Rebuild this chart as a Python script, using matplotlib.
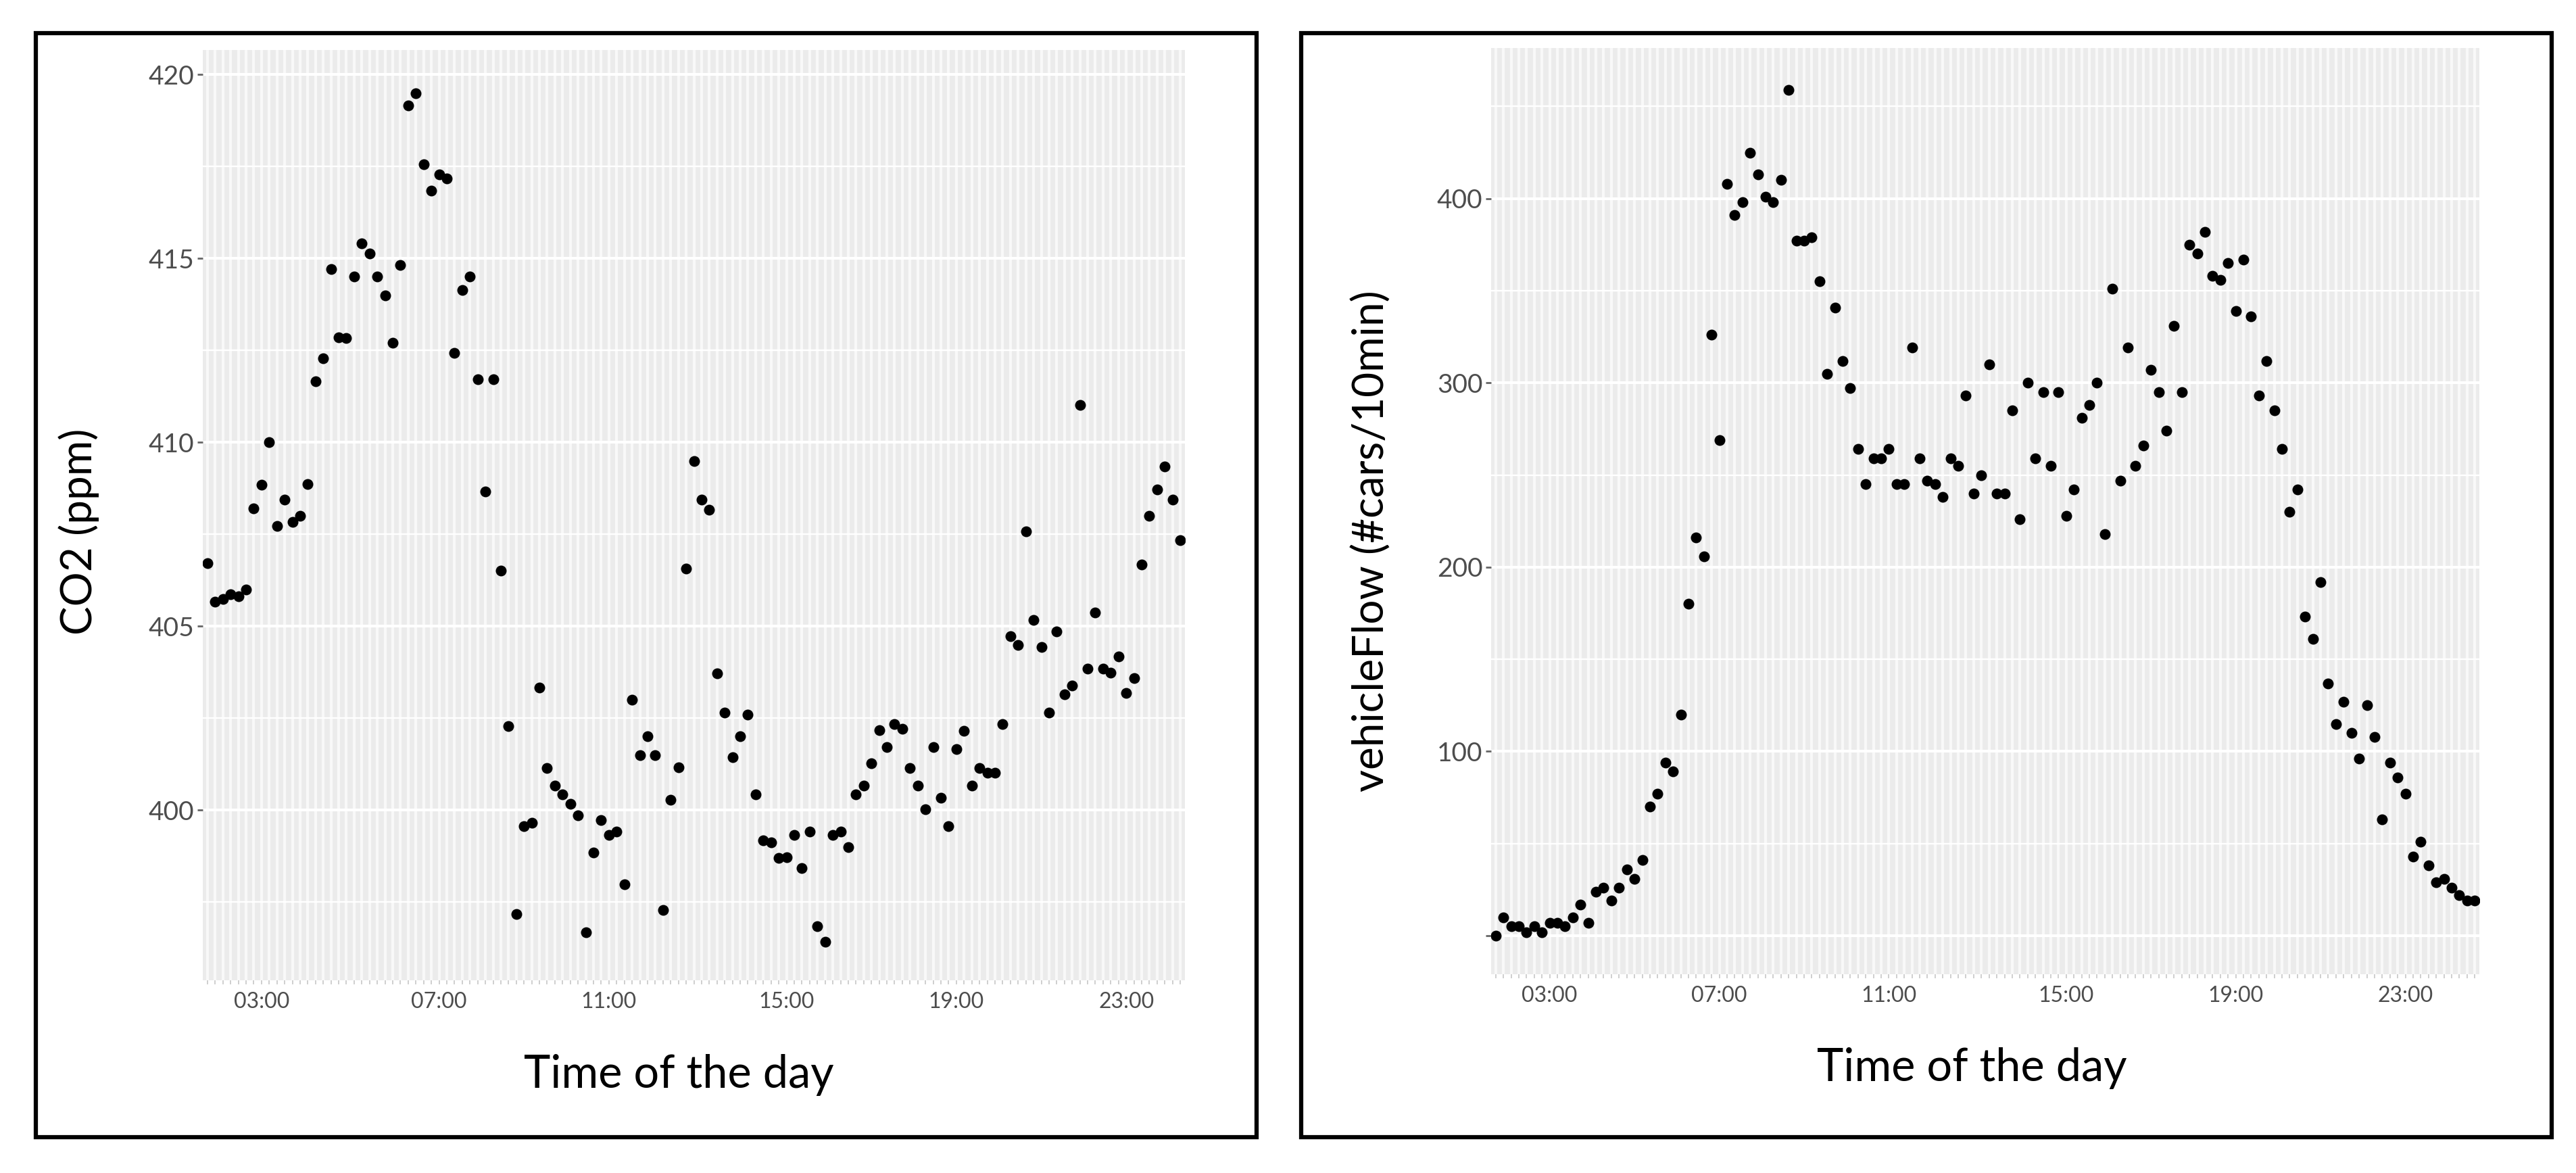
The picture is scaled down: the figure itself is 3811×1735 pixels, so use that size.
import numpy as np
import matplotlib.pyplot as plt
from matplotlib.patches import Rectangle

# CO2 readings, one per time slot (ppm)
co2 = [406.72, 405.67, 405.74, 405.86, 405.82, 405.99, 408.20, 408.85, 410.00, 407.72,
       408.44, 407.84, 408.00, 408.87, 411.66, 412.28, 414.71, 412.86, 412.83, 414.51,
       415.42, 415.14, 414.51, 413.99, 412.71, 414.83, 419.17, 419.50, 417.57, 416.84,
       417.29, 417.17, 412.43, 414.14, 414.51, 411.71, 408.67, 411.71, 406.51, 402.28,
       397.17, 399.57, 399.65, 403.34, 401.15, 400.67, 400.43, 400.17, 399.85, 396.67,
       398.85, 399.72, 399.33, 399.42, 397.99, 403.00, 401.50, 402.00, 401.50, 397.29,
       400.28, 401.17, 406.57, 409.50, 408.44, 408.17, 403.71, 402.66, 401.43, 402.00,
       402.60, 400.43, 399.17, 399.13, 398.69, 398.72, 399.33, 398.42, 399.42, 396.84,
       396.42, 399.33, 399.42, 399.00, 400.43, 400.67, 401.28, 402.18, 401.71, 402.34,
       402.21, 401.15, 400.67, 400.02, 401.71, 400.33, 399.57, 401.66, 402.15, 400.67,
       401.15, 401.01, 401.01, 402.34, 404.73, 404.49, 407.57, 405.17, 404.44, 402.66,
       404.86, 403.15, 403.39, 411.02, 403.84, 405.37, 403.84, 403.73, 404.18, 403.18,
       403.58, 406.67, 408.00, 408.72, 409.35, 408.44, 407.34]

# vehicle counts per 10 minutes
flow = [0, 10, 5, 5, 2, 5, 2, 7, 7, 5,
        10, 17, 7, 24, 26, 19, 26, 36, 31, 41,
        70, 77, 94, 89, 120, 180, 216, 206, 326, 269,
        408, 391, 398, 425, 413, 401, 398, 410, 459, 377,
        377, 379, 355, 305, 341, 312, 297, 264, 245, 259,
        259, 264, 245, 245, 319, 259, 247, 245, 238, 259,
        255, 293, 240, 250, 310, 240, 240, 285, 226, 300,
        259, 295, 255, 295, 228, 242, 281, 288, 300, 218,
        351, 247, 319, 255, 266, 307, 295, 274, 331, 295,
        375, 370, 382, 358, 356, 365, 339, 367, 336, 293,
        312, 285, 264, 230, 242, 173, 161, 192, 137, 115,
        127, 110, 96, 125, 108, 63, 94, 86, 77, 43,
        51, 38, 29, 31, 26, 22, 19, 19]

tick_names = ['03:00', '07:00', '11:00', '15:00', '19:00', '23:00']
co2_tick_idx = [7, 30, 52, 75, 97, 119]
flow_tick_idx = [7, 29, 51, 74, 96, 118]

plt.rcParams['font.family'] = ['Lato', 'DejaVu Sans']

W, H = 3811, 1735
fig = plt.figure(figsize=(W / 100, H / 100), dpi=100)


def rect_px(x0, y0, x1, y1):
    return [x0 / W, 1 - y1 / H, (x1 - x0) / W, (y1 - y0) / H]


def panel(rect, values, tick_idx, ylim, ymajor, ylabels, yminor):
    ax = fig.add_axes(rect)
    n = len(values)
    x = np.arange(n)
    ax.set_facecolor('#EBEBEB')
    ax.set_xlim(-0.6, n - 0.4)
    ax.set_ylim(*ylim)
    labels = [''] * n
    for i, t in zip(tick_idx, tick_names):
        labels[i] = t
    ax.set_xticks(x)
    ax.set_xticklabels(labels)
    ax.set_yticks(ymajor)
    ax.set_yticklabels(ylabels)
    ax.set_yticks(yminor, minor=True)
    ax.grid(axis='x', which='major', color='#F8F8F8', lw=3)
    ax.grid(axis='y', which='major', color='white', lw=2.9)
    ax.grid(axis='y', which='minor', color='white', lw=1.7)
    ax.set_axisbelow(True)
    ax.tick_params(axis='x', length=4, width=1.3, color='#CCCCCC',
                   labelsize=23, labelcolor='#4D4D4D', pad=8)
    ax.tick_params(axis='y', which='major', length=6, width=2, color='#666666',
                   labelsize=28, labelcolor='#4D4D4D', pad=3)
    ax.tick_params(axis='y', which='minor', length=0)
    for s in ax.spines.values():
        s.set_visible(False)
    ax.plot(x, values, 'o', color='black', ms=11.5, mec='none')
    return ax


panel(rect_px(300, 74, 1753, 1450), co2, co2_tick_idx, (395.37, 420.67),
      [400, 405, 410, 415, 420], ['400', '405', '410', '415', '420'],
      [397.5, 402.5, 407.5, 412.5, 417.5])
panel(rect_px(2206, 71, 3668, 1441), flow, flow_tick_idx, (-20.9, 481.7),
      [0, 100, 200, 300, 400], ['', '100', '200', '300', '400'],
      [50, 150, 250, 350, 450])

# frames around each chart
for x0, x1 in [(53, 1859), (1925, 3775)]:
    fig.add_artist(Rectangle((x0 / W, 1 - 1682 / H), (x1 - x0) / W, (1682 - 49) / H,
                             transform=fig.transFigure, fill=False, lw=4.5, ec='black'))

fig.text(117 / W, 1 - 786 / H, 'CO2 (ppm)', rotation=90, ha='center', va='center', fontsize=46)
fig.text(1004 / W, 1 - 1590 / H, 'Time of the day', ha='center', va='center', fontsize=48)
fig.text(2029 / W, 1 - 800 / H, 'vehicleFlow (#cars/10min)', rotation=90,
         ha='center', va='center', fontsize=46)
fig.text(2917 / W, 1 - 1580 / H, 'Time of the day', ha='center', va='center', fontsize=48)

fig.savefig('out.png', dpi=100)
